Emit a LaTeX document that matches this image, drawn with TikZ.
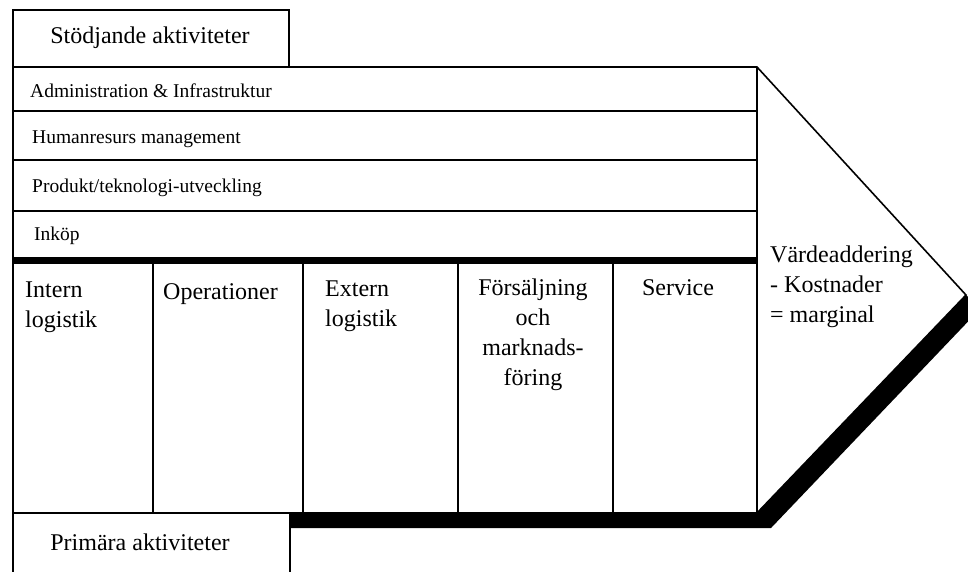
\documentclass[tikz,border=0pt]{standalone}
\usepackage{fontspec}
\setmainfont{Liberation Serif}
\begin{document}
\begin{tikzpicture}[x=1pt,y=-1pt,
  rule/.style={line width=1.6pt, line join=miter},
  heavy/.style={line width=7pt},
  rowtext/.style={anchor=base west, inner sep=0pt, font=\fontsize{19.5}{22}\selectfont},
  bigtext/.style={inner sep=0pt, font=\fontsize{24}{30}\selectfont},
  coltext/.style={bigtext, anchor=north west, align=left},
  shadowband/.style={fill=black, draw=none}]
\useasboundingbox (0,0) rectangle (968,571);
\clip (0,0) rectangle (968,571);

% heavy band along the lower and lower-right edge
\fill[shadowband] (290,513) -- (757,513) -- (966,295) -- (980,309)
  -- (771,528) -- (290,528) -- cycle;

% outline of the chain with its arrow point
\draw[rule] (13,67) -- (757,67) -- (966,295) -- (757,513) -- (13,513) -- cycle;
\draw[rule] (757,67) -- (757,513);

% support activity rows
\draw[rule] (13,111) -- (757,111);
\draw[rule] (13,160) -- (757,160);
\draw[rule] (13,211) -- (757,211);
\draw[heavy] (13,260) -- (757,260);

% primary activity columns
\foreach \cx in {153,303,458,613}
  \draw[rule] (\cx,260) -- (\cx,513);

% label boxes
\draw[rule] (13,67) -- (13,10) -- (289,10) -- (289,67);
\draw[rule] (13,513) -- (13,590);
\draw[rule] (290,513) -- (290,590);

\node[bigtext, anchor=base] (sup) at (150,43) {Stödjande aktiviteter};
\node[bigtext, anchor=base] (prim) at (140,550) {Primära aktiviteter};

\node[rowtext] (adm) at (30,97) {Administration \& Infrastruktur};
\node[rowtext] (hr) at (32,143) {Humanresurs management};
\node[rowtext] (tech) at (32,192) {Produkt/teknologi-utveckling};
\node[rowtext] (proc) at (34,240) {Inköp};

\node[coltext] (inlog) at (25,282) {Intern\\logistik};
\node[coltext] (ops) at (163,283) {Operationer};
\node[coltext] (outlog) at (325,281) {Extern\\logistik};
\node[bigtext, anchor=north, align=center] (sales) at (533,279)
  {Försäljning\\och\\marknads-\\föring};
\node[bigtext, anchor=base] (serv) at (678,295) {Service};
\node[coltext] (margin) at (770,246) {Värdeaddering\\- Kostnader\\= marginal};
\end{tikzpicture}
\end{document}
